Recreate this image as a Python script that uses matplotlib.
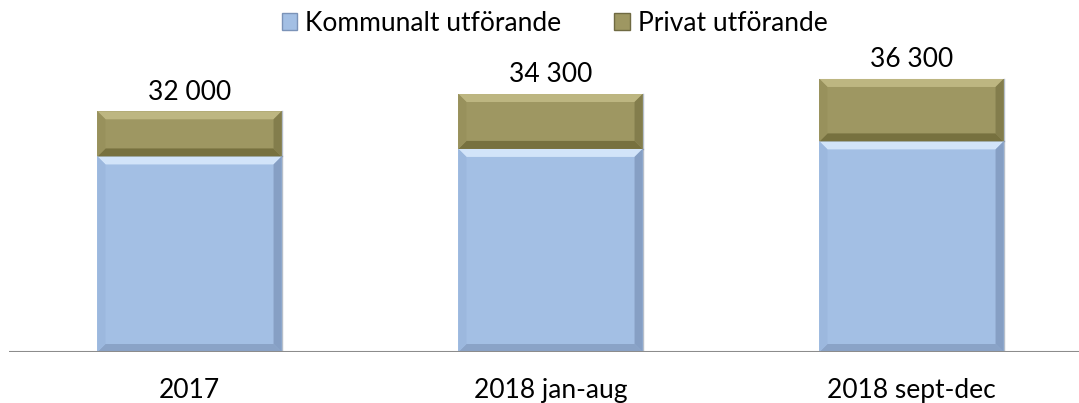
import matplotlib
matplotlib.use("Agg")
import matplotlib.pyplot as plt
from matplotlib.patches import Polygon, Rectangle
import numpy as np

categories = ['2017', '2018 jan-aug', '2018 sept-dec']
kommunalt = [26000, 27000, 28000]
privat = [6000, 7300, 8300]
totals = [32000, 34300, 36300]
total_labels = ['32 000', '34 300', '36 300']

plt.rcParams['font.family'] = ['Lato', 'DejaVu Sans']

blue = {'face': '#a3bfe4', 'light': '#d2e4f9', 'bottom': '#8aa3c7',
        'left': '#9cb8de', 'right': '#869fc4'}
olive = {'face': '#9e9762', 'light': '#bdb681', 'bottom': '#77713f',
         'left': '#98915c', 'right': '#837d4c'}

fig = plt.figure(figsize=(10.79, 4.03), dpi=100)
ax = fig.add_axes([9 / 1079, 51 / 403, 1083 / 1079, 352 / 403])
ax.set_xlim(-0.5, 2.5)
ax.set_ylim(0, 46800)

x = np.arange(len(categories))
width = 0.51

# bevel size in data units (about 8 px)
bx = 8 / 361
by = 8 * 46800 / 352


def bevel_bar(xc, bottom, height, c):
    l, r = xc - width / 2, xc + width / 2
    b, t = bottom, bottom + height
    ax.add_patch(Rectangle((l, b), width, height, facecolor=c['face'], edgecolor='none', zorder=2))
    ax.add_patch(Polygon([(l, t), (r, t), (r - bx, t - by), (l + bx, t - by)],
                         facecolor=c['light'], edgecolor='none', zorder=3))
    ax.add_patch(Polygon([(l, b), (r, b), (r - bx, b + by), (l + bx, b + by)],
                         facecolor=c['bottom'], edgecolor='none', zorder=3))
    ax.add_patch(Polygon([(l, b), (l, t), (l + bx, t - by), (l + bx, b + by)],
                         facecolor=c['left'], edgecolor='none', zorder=3))
    ax.add_patch(Polygon([(r, b), (r, t), (r - bx, t - by), (r - bx, b + by)],
                         facecolor=c['right'], edgecolor='none', zorder=3))
    ax.plot([r, r], [b, t], color='#6f7f96', linewidth=1.0, alpha=0.5, zorder=3)


for i in range(len(categories)):
    bevel_bar(x[i], 0, kommunalt[i], blue)
    bevel_bar(x[i], kommunalt[i], privat[i], olive)
    ax.text(x[i], totals[i] + 900, total_labels[i], ha='center', va='bottom', fontsize=19)

ax.axhline(0, color='#8c8c8c', linewidth=1.5, zorder=4)

ax.set_xticks(x)
ax.set_xticklabels(categories, fontsize=19)
ax.tick_params(axis='x', length=0, pad=19)
ax.set_yticks([])
for s in ax.spines.values():
    s.set_visible(False)

# legend
h1 = Rectangle((0, 0), 1, 1, facecolor=blue['face'], edgecolor='#7b93b8')
h2 = Rectangle((0, 0), 1, 1, facecolor=olive['face'], edgecolor='#6f6a42')
fig.legend([h1, h2], ['Kommunalt utförande', 'Privat utförande'], loc='center',
           bbox_to_anchor=(0.514, 0.942), ncol=2, frameon=False, fontsize=19,
           handlelength=0.6, handleheight=0.6, handletextpad=0.3, columnspacing=2.0,
           borderpad=0.1)

fig.savefig('out.png', dpi=100)
